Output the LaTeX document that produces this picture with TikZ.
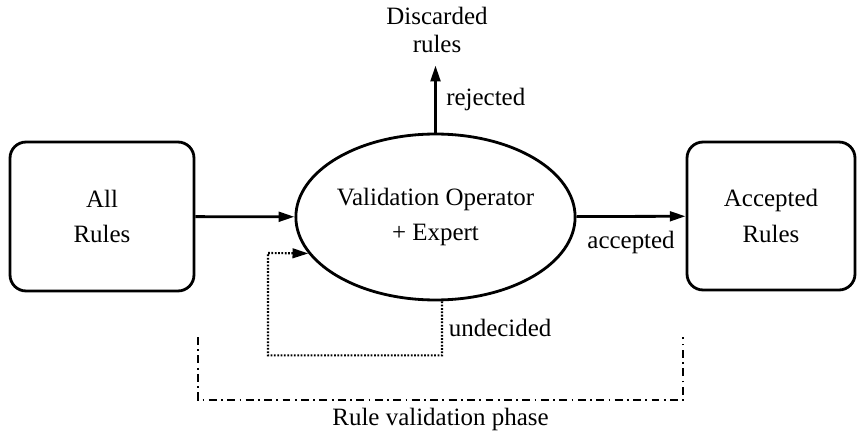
\documentclass[tikz,border=0pt]{standalone}
\usepackage{fontspec}
\setmainfont{Liberation Serif}
\usetikzlibrary{shapes.geometric, arrows.meta}

\begin{document}
\begin{tikzpicture}[x=0.02cm, y=-0.02cm,
    every node/.style={font=\fontsize{14.2}{20.4}\selectfont, align=center},
    rulebox/.style={draw, line width=1.6pt, rounded corners=0.32cm, inner sep=0pt},
    flow/.style={line width=1.6pt, -{Triangle[length=9pt, width=5.5pt]}},
    undec/.style={line width=1.2pt, dash pattern=on 1pt off 0.9pt, -{Triangle[length=9pt, width=5.5pt]}},
    phaseline/.style={line width=1.6pt, dash pattern=on 4.5pt off 2.5pt on 1pt off 2.5pt}]
    \useasboundingbox (0,0) rectangle (857,432);
    \node[rulebox, minimum width=3.68cm, minimum height=2.98cm] (all) at (102,216.5) {All\\Rules};
    \node[rulebox, minimum width=3.36cm, minimum height=2.96cm] (acc) at (771,216) {Accepted\\Rules};
    \node[ellipse, draw, line width=1.6pt, minimum width=5.42cm, minimum height=3.32cm, inner sep=0pt]
        (op) at (435.5,217) {Validation Operator\\+ Expert};
    \node[font=\fontsize{14.2}{16.4}\selectfont, inner sep=0pt, outer sep=7pt] (disc) at (437,30) {Discarded\\rules};
    \node (phase) at (440.5,419) {Rule validation phase};
    % connectors
    \draw[flow] (all) -- (op);
    \draw[flow] (op) -- (acc) node[midway, below=4pt] {accepted};
    \draw[flow] (op.north) -- (op.north |- disc.south) node[midway, right=2pt] {rejected};
    \draw[undec] ([xshift=0.13cm]op.south) -- ++(0,54) node[midway, right] {undecided}
        -| (268,253) -- (op.196.6);
    % phase bracket
    \draw[phaseline] (198,337) |- (683,400) -- (683,337);
\end{tikzpicture}
\end{document}
